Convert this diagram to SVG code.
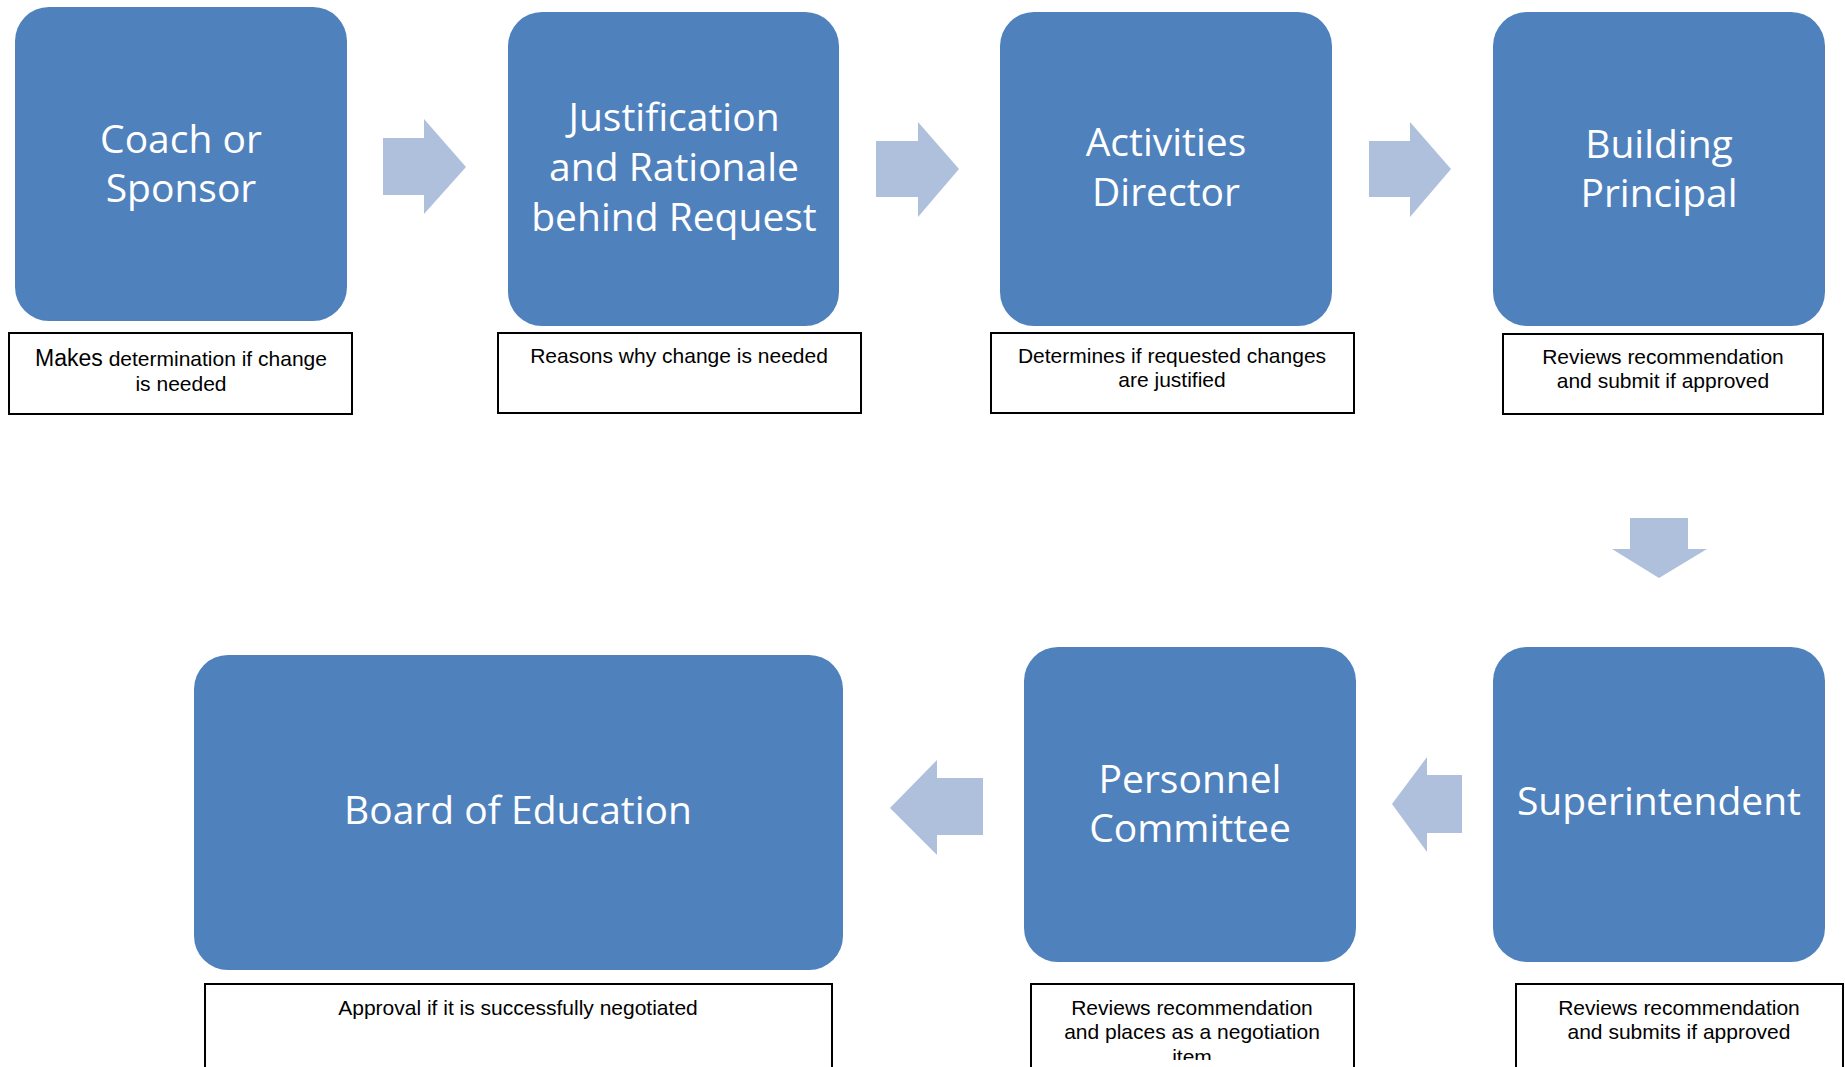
<svg xmlns="http://www.w3.org/2000/svg" width="1845" height="1067" viewBox="0 0 1845 1067">
<style>
.node{fill:#4F81BD;}
.lbl{font-family:"Open Sans","Liberation Sans",sans-serif;font-size:39px;fill:#FFFFFF;text-anchor:middle;}
.desc{fill:#FFFFFF;stroke:#000000;stroke-width:2;}
.dt{font-family:"Liberation Sans",Arial,sans-serif;font-size:21px;fill:#000000;text-anchor:middle;}
.arrow{fill:#AFC0DD;}
</style>
<defs>
<clipPath id="clipItem"><rect x="1031" y="984" width="323" height="76"/></clipPath>
</defs>
<rect width="1845" height="1067" fill="#FFFFFF"/>

<g id="connectors">
<polygon class="arrow" points="383,138 424,138 424,119 466,167 424,214 424,195 383,195"/>
<polygon class="arrow" points="876,141 918,141 918,122 959,169 918,217 918,197 876,197"/>
<polygon class="arrow" points="1369,141 1410,141 1410,122 1451,169 1410,217 1410,197 1369,197"/>
<polygon class="arrow" points="1630,518 1688,518 1688,549 1707,549 1659,578 1612,549 1630,549"/>
<polygon class="arrow" points="1462,775 1427,775 1427,757 1392,804 1427,852 1427,833 1462,833"/>
<polygon class="arrow" points="983,778 937,778 937,760 890,808 937,855 937,835 983,835"/>
</g>

<g id="node-coach">
<rect class="node" x="15" y="7" width="332" height="314" rx="34"/>
<text class="lbl" x="181" y="153">Coach or</text>
<text class="lbl" x="181" y="202">Sponsor</text>
<rect class="desc" x="9" y="333" width="343" height="81"/>
<text class="dt" x="181" y="366"><tspan font-size="23">Makes</tspan> determination if change</text>
<text class="dt" x="181" y="391">is needed</text>
</g>

<g id="node-justification">
<rect class="node" x="508" y="12" width="331" height="314" rx="34"/>
<text class="lbl" x="674" y="131">Justification</text>
<text class="lbl" x="674" y="181">and Rationale</text>
<text class="lbl" x="674" y="231">behind Request</text>
<rect class="desc" x="498" y="333" width="363" height="80"/>
<text class="dt" x="679" y="363">Reasons why change is needed</text>
</g>

<g id="node-activities">
<rect class="node" x="1000" y="12" width="332" height="314" rx="34"/>
<text class="lbl" x="1166" y="156">Activities</text>
<text class="lbl" x="1166" y="206">Director</text>
<rect class="desc" x="991" y="333" width="363" height="80"/>
<text class="dt" x="1172" y="363">Determines if requested changes</text>
<text class="dt" x="1172" y="387">are justified</text>
</g>

<g id="node-principal">
<rect class="node" x="1493" y="12" width="332" height="314" rx="34"/>
<text class="lbl" x="1659" y="158">Building</text>
<text class="lbl" x="1659" y="207">Principal</text>
<rect class="desc" x="1503" y="334" width="320" height="80"/>
<text class="dt" x="1663" y="364">Reviews recommendation</text>
<text class="dt" x="1663" y="388">and submit if approved</text>
</g>

<g id="node-superintendent">
<rect class="node" x="1493" y="647" width="332" height="315" rx="34"/>
<text class="lbl" x="1659" y="815">Superintendent</text>
<rect class="desc" x="1516" y="984" width="327" height="100"/>
<text class="dt" x="1679" y="1015">Reviews recommendation</text>
<text class="dt" x="1679" y="1039">and submits if approved</text>
</g>

<g id="node-personnel">
<rect class="node" x="1024" y="647" width="332" height="315" rx="34"/>
<text class="lbl" x="1190" y="793">Personnel</text>
<text class="lbl" x="1190" y="842">Committee</text>
<rect class="desc" x="1031" y="984" width="323" height="100"/>
<text class="dt" x="1192" y="1015">Reviews recommendation</text>
<text class="dt" x="1192" y="1039">and places as a negotiation</text>
<text class="dt" x="1192" y="1064" clip-path="url(#clipItem)">item</text>
</g>

<g id="node-board">
<rect class="node" x="194" y="655" width="649" height="315" rx="34"/>
<text class="lbl" x="518" y="824">Board of Education</text>
<rect class="desc" x="205" y="984" width="627" height="100"/>
<text class="dt" x="518" y="1015">Approval if it is successfully negotiated</text>
</g>
</svg>
